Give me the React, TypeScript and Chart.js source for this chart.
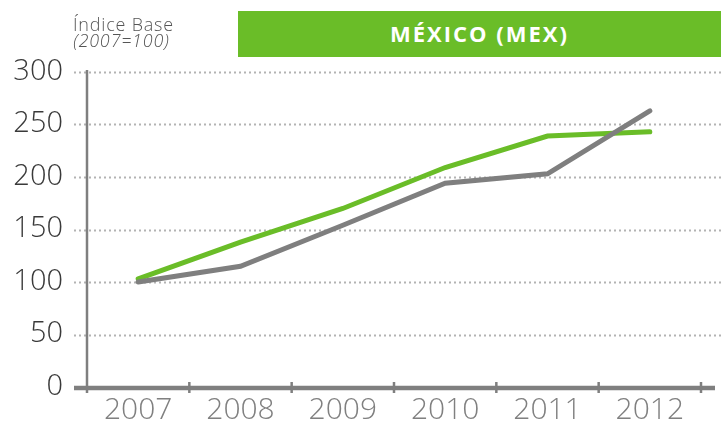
import React, { useEffect, useRef } from "react";
import { Chart, registerables } from "chart.js";

Chart.register(...registerables);

const years = ["2007", "2008", "2009", "2010", "2011", "2012"];
const greenSeries = [103, 138, 170, 209, 239, 243];
const graySeries = [100, 115, 154, 194, 203, 263];
const yTicks = [0, 50, 100, 150, 200, 250, 300];

const GREEN = "#6abd28";
const GRAY = "#7f7f7f";
const FONT = "'Open Sans', 'Noto Sans', sans-serif";
const LIGHT = "'Open Sans Light', 'Lato Light', 'Open Sans', sans-serif";

const axesPlugin = {
  id: "customAxes",
  beforeDatasetsDraw(chart: any) {
    const { ctx, chartArea, scales } = chart;
    const y = scales.y;
    const x = scales.x;
    ctx.save();
    ctx.strokeStyle = "#b3b3b3";
    ctx.lineWidth = 2;
    ctx.setLineDash([2, 3]);
    y.ticks.forEach((t: any) => {
      if (t.value === 0) return;
      const py = Math.round(y.getPixelForValue(t.value)) + 0.5;
      ctx.beginPath();
      ctx.moveTo(chartArea.left - 13, py);
      ctx.lineTo(chart.width, py);
      ctx.stroke();
    });
    ctx.setLineDash([]);
    ctx.strokeStyle = GRAY;
    ctx.lineWidth = 2.5;
    ctx.beginPath();
    ctx.moveTo(chartArea.left, y.getPixelForValue(300) - 2);
    ctx.lineTo(chartArea.left, y.getPixelForValue(0) + 6);
    ctx.stroke();
    const y0 = y.getPixelForValue(0);
    ctx.lineWidth = 4.5;
    ctx.beginPath();
    ctx.moveTo(chartArea.left - 13, y0 + 1);
    ctx.lineTo(chartArea.right + 14, y0 + 1);
    ctx.stroke();
    ctx.lineWidth = 2.5;
    const n = x.ticks.length;
    const step = x.getPixelForValue(1) - x.getPixelForValue(0);
    for (let i = 0; i < n; i++) {
      const bx = x.getPixelForValue(i) + step / 2;
      ctx.beginPath();
      ctx.moveTo(bx, y0 - 5);
      ctx.lineTo(bx, y0 + 6);
      ctx.stroke();
    }
    ctx.restore();
  },
};

export default function App() {
  const ref = useRef<HTMLCanvasElement | null>(null);
  useEffect(() => {
    if (!ref.current) return;
    const chart = new Chart(ref.current, {
      type: "line",
      data: {
        labels: years,
        datasets: [
          {
            label: "Gris",
            data: graySeries,
            borderColor: GRAY,
            borderWidth: 5,
            pointRadius: 0,
            borderCapStyle: "round",
            tension: 0,
          },
          {
            label: "México",
            data: greenSeries,
            borderColor: GREEN,
            borderWidth: 5,
            pointRadius: 0,
            borderCapStyle: "round",
            tension: 0,
          },
        ],
      },
      options: {
        animation: false,
        responsive: false,
        maintainAspectRatio: false,
        layout: { padding: { top: 72, right: 20, left: 0, bottom: 0 } },
        plugins: { legend: { display: false }, tooltip: { enabled: false } },
        scales: {
          x: {
            offset: true,
            grid: { display: false, drawTicks: false },
            border: { display: false },
            ticks: {
              color: "#808080",
              font: { family: LIGHT, size: 30, weight: 300 as any },
              padding: 6,
              maxRotation: 0,
            },
            afterFit(scale: any) {
              scale.height = 38;
              scale.paddingTop = 0;
              scale.paddingBottom = 0;
            },
          },
          y: {
            min: 0,
            max: 300,
            grid: { display: false, drawTicks: false },
            border: { display: false },
            afterBuildTicks(scale: any) {
              scale.ticks = yTicks.map((v) => ({ value: v }));
            },
            ticks: {
              color: "#3a3a3a",
              font: { family: LIGHT, size: 29, weight: 300 as any },
              padding: 24,
            },
            afterFit(scale: any) {
              scale.width = 87;
              scale.paddingTop = 0;
              scale.paddingBottom = 0;
            },
          },
        },
      },
      plugins: [axesPlugin],
    });
    return () => chart.destroy();
  }, []);

  return (
    <div style={{ position: "absolute", left: 0, top: 0, width: 721, height: 425, background: "#fff", fontFamily: FONT }}>
      <canvas ref={ref} width={721} height={425} style={{ position: "absolute", left: 0, top: 0 }} />
      <div
        style={{
          position: "absolute",
          left: 73,
          top: 16,
          fontSize: 18,
          color: "#555",
          lineHeight: "16px",
          letterSpacing: "0.8px",
          fontFamily: LIGHT,
          fontWeight: 300,
          whiteSpace: "nowrap",
        }}
      >
        Índice Base
        <br />
        <i>(2007=100)</i>
      </div>
      <div
        style={{
          position: "absolute",
          left: 238,
          top: 11,
          width: 483,
          height: 46,
          background: GREEN,
          color: "#fff",
          fontWeight: 700,
          fontSize: 22,
          letterSpacing: "2px",
          display: "flex",
          alignItems: "center",
          justifyContent: "center",
          paddingBottom: 3,
          boxSizing: "border-box",
        }}
      >
        MÉXICO (MEX)
      </div>
    </div>
  );
}
